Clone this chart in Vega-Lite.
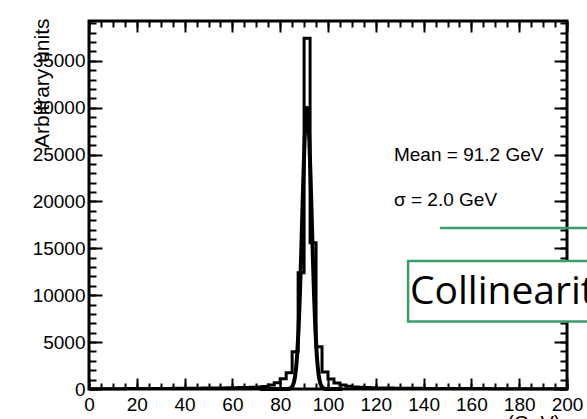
{
  "$schema": "https://vega.github.io/schema/vega-lite/v6.json",
  "width": 478,
  "height": 368,
  "autosize": {"type": "none"},
  "padding": {"left": 89, "top": 21, "right": 20, "bottom": 30},
  "background": "white",
  "config": {
    "view": {"stroke": "black", "strokeWidth": 3},
    "axis": {"domain": false, "grid": false, "tickColor": "black", "tickWidth": 2, "labelColor": "black", "labelFont": "Liberation Sans", "labelFontSize": 19, "titleColor": "black", "titleFont": "Liberation Sans", "titleFontWeight": "normal", "labelFlush": false, "labelOverlap": false}
  },
  "datasets": {
    "hist": [
      {"mass": 0, "count": 30}, {"mass": 2.5, "count": 30}, {"mass": 5, "count": 35}, {"mass": 7.5, "count": 35},
      {"mass": 10, "count": 40}, {"mass": 12.5, "count": 40}, {"mass": 15, "count": 45}, {"mass": 17.5, "count": 45},
      {"mass": 20, "count": 50}, {"mass": 22.5, "count": 50}, {"mass": 25, "count": 55}, {"mass": 27.5, "count": 60},
      {"mass": 30, "count": 60}, {"mass": 32.5, "count": 65}, {"mass": 35, "count": 70}, {"mass": 37.5, "count": 75},
      {"mass": 40, "count": 80}, {"mass": 42.5, "count": 85}, {"mass": 45, "count": 90}, {"mass": 47.5, "count": 95},
      {"mass": 50, "count": 100}, {"mass": 52.5, "count": 110}, {"mass": 55, "count": 120}, {"mass": 57.5, "count": 130},
      {"mass": 60, "count": 140}, {"mass": 62.5, "count": 155}, {"mass": 65, "count": 170}, {"mass": 67.5, "count": 190},
      {"mass": 70, "count": 210}, {"mass": 72.5, "count": 270}, {"mass": 75, "count": 430}, {"mass": 77.5, "count": 670},
      {"mass": 80, "count": 1100}, {"mass": 82.5, "count": 1740}, {"mass": 85, "count": 3980}, {"mass": 87.5, "count": 12400},
      {"mass": 90, "count": 37400}, {"mass": 92.5, "count": 15600}, {"mass": 95, "count": 4510}, {"mass": 97.5, "count": 1810},
      {"mass": 100, "count": 1070}, {"mass": 102.5, "count": 640}, {"mass": 105, "count": 430}, {"mass": 107.5, "count": 290},
      {"mass": 110, "count": 220}, {"mass": 112.5, "count": 180}, {"mass": 115, "count": 150}, {"mass": 117.5, "count": 130},
      {"mass": 120, "count": 115}, {"mass": 122.5, "count": 105}, {"mass": 125, "count": 95}, {"mass": 127.5, "count": 90},
      {"mass": 130, "count": 85}, {"mass": 132.5, "count": 80}, {"mass": 135, "count": 75}, {"mass": 137.5, "count": 70},
      {"mass": 140, "count": 65}, {"mass": 142.5, "count": 62}, {"mass": 145, "count": 60}, {"mass": 147.5, "count": 57},
      {"mass": 150, "count": 55}, {"mass": 152.5, "count": 52}, {"mass": 155, "count": 50}, {"mass": 157.5, "count": 48},
      {"mass": 160, "count": 46}, {"mass": 162.5, "count": 44}, {"mass": 165, "count": 42}, {"mass": 167.5, "count": 40},
      {"mass": 170, "count": 38}, {"mass": 172.5, "count": 36}, {"mass": 175, "count": 35}, {"mass": 177.5, "count": 34},
      {"mass": 180, "count": 33}, {"mass": 182.5, "count": 32}, {"mass": 185, "count": 31}, {"mass": 187.5, "count": 30},
      {"mass": 190, "count": 29}, {"mass": 192.5, "count": 28}, {"mass": 195, "count": 27}, {"mass": 197.5, "count": 26},
      {"mass": 200, "count": 26}
    ],
    "fit": [
      {"mass": 71.5, "count": 0}, {"mass": 78, "count": 0}, {"mass": 82.2, "count": 1}, {"mass": 83.2, "count": 10},
      {"mass": 84.2, "count": 66}, {"mass": 85.2, "count": 330}, {"mass": 85.7, "count": 680}, {"mass": 86.2, "count": 1320},
      {"mass": 86.7, "count": 2390}, {"mass": 87.2, "count": 4060}, {"mass": 87.7, "count": 6490}, {"mass": 88.2, "count": 9740},
      {"mass": 88.7, "count": 13730}, {"mass": 89.2, "count": 18200}, {"mass": 89.7, "count": 22640}, {"mass": 90.2, "count": 26470},
      {"mass": 90.7, "count": 29080}, {"mass": 91.2, "count": 30000}, {"mass": 91.7, "count": 29080}, {"mass": 92.2, "count": 26470},
      {"mass": 92.7, "count": 22640}, {"mass": 93.2, "count": 18200}, {"mass": 93.7, "count": 13730}, {"mass": 94.2, "count": 9740},
      {"mass": 94.7, "count": 6490}, {"mass": 95.2, "count": 4060}, {"mass": 95.7, "count": 2390}, {"mass": 96.2, "count": 1320},
      {"mass": 96.7, "count": 680}, {"mass": 97.2, "count": 330}, {"mass": 98.2, "count": 66}, {"mass": 99.2, "count": 10},
      {"mass": 100.2, "count": 1}, {"mass": 106, "count": 0}
    ],
    "notes": [
      {"label": "Mean = 91.2 GeV", "x": 127.6, "y": 24970},
      {"label": "σ = 2.0 GeV", "x": 127.6, "y": 20170}
    ],
    "greenline": [{"x": 146.9, "x2": 215, "y": 17180}],
    "box": [{"x": 133.5, "x2": 215, "y": 13660, "y2": 7200}],
    "boxtext": [{"label": "Collinearity", "x": 134.3, "y": 9070}]
  },
  "resolve": {"axis": {"x": "independent", "y": "independent"}},
  "layer": [
    {
      "data": {"name": "hist"},
      "mark": {"type": "line", "interpolate": "step-after", "color": "black", "strokeWidth": 3},
      "encoding": {
        "x": {"field": "mass", "type": "quantitative", "scale": {"domain": [0, 200], "nice": false, "zero": false},
          "axis": {"orient": "bottom", "values": [0, 20, 40, 60, 80, 100, 120, 140, 160, 180, 200], "ticks": false, "labelPadding": 6, "format": "d",
            "title": "(GeV)", "titleFontSize": 20, "titleX": 471, "titleY": 40, "titleAlign": "right", "titleBaseline": "alphabetic"}},
        "y": {"field": "count", "type": "quantitative", "scale": {"domain": [0, 39250], "nice": false, "zero": false},
          "axis": {"orient": "left", "values": [0, 5000, 10000, 15000, 20000, 25000, 30000, 35000], "ticks": false, "labelPadding": 4, "format": "d",
            "title": "Arbitrary units", "titleFontSize": 21, "titleAngle": -90, "titleX": -41, "titleY": -3, "titleAlign": "right", "titleBaseline": "alphabetic"}}
      }
    },
    {
      "data": {"name": "fit"},
      "mark": {"type": "line", "interpolate": "monotone", "color": "black", "strokeWidth": 4},
      "encoding": {
        "x": {"field": "mass", "type": "quantitative", "scale": {"domain": [0, 200], "nice": false, "zero": false},
          "axis": {"orient": "bottom", "values": [0, 20, 40, 60, 80, 100, 120, 140, 160, 180, 200], "labels": false, "tickSize": -11, "title": null}},
        "y": {"field": "count", "type": "quantitative", "scale": {"domain": [0, 39250], "nice": false, "zero": false},
          "axis": {"orient": "left", "values": [0, 5000, 10000, 15000, 20000, 25000, 30000, 35000], "labels": false, "tickSize": -13, "title": null}}
      }
    },
    {
      "data": {"name": "notes"},
      "mark": {"type": "text", "align": "left", "baseline": "middle", "font": "Liberation Sans", "fontSize": 19, "color": "black"},
      "encoding": {
        "x": {"field": "x", "type": "quantitative", "scale": {"domain": [0, 200], "nice": false, "zero": false},
          "axis": {"orient": "bottom", "values": [0, 5, 10, 15, 20, 25, 30, 35, 40, 45, 50, 55, 60, 65, 70, 75, 80, 85, 90, 95, 100, 105, 110, 115, 120, 125, 130, 135, 140, 145, 150, 155, 160, 165, 170, 175, 180, 185, 190, 195, 200], "labels": false, "tickSize": -6, "title": null}},
        "y": {"field": "y", "type": "quantitative", "scale": {"domain": [0, 39250], "nice": false, "zero": false},
          "axis": {"orient": "left", "values": [0, 1000, 2000, 3000, 4000, 5000, 6000, 7000, 8000, 9000, 10000, 11000, 12000, 13000, 14000, 15000, 16000, 17000, 18000, 19000, 20000, 21000, 22000, 23000, 24000, 25000, 26000, 27000, 28000, 29000, 30000, 31000, 32000, 33000, 34000, 35000, 36000, 37000, 38000, 39000], "labels": false, "tickSize": -7, "title": null}},
        "text": {"field": "label"}
      }
    },
    {
      "data": {"name": "greenline"},
      "mark": {"type": "rule", "color": "#3a9d6b", "strokeWidth": 2.5},
      "encoding": {
        "x": {"field": "x", "type": "quantitative", "scale": {"domain": [0, 200], "nice": false, "zero": false},
          "axis": {"orient": "top", "values": [0, 20, 40, 60, 80, 100, 120, 140, 160, 180, 200], "labels": false, "tickSize": -11, "title": null}},
        "x2": {"field": "x2"},
        "y": {"field": "y", "type": "quantitative", "scale": {"domain": [0, 39250], "nice": false, "zero": false},
          "axis": {"orient": "right", "values": [0, 5000, 10000, 15000, 20000, 25000, 30000, 35000], "labels": false, "tickSize": -13, "title": null}}
      }
    },
    {
      "data": {"name": "box"},
      "mark": {"type": "rect", "fill": "white", "stroke": "#3a9d6b", "strokeWidth": 2.5},
      "encoding": {
        "x": {"field": "x", "type": "quantitative", "scale": {"domain": [0, 200], "nice": false, "zero": false},
          "axis": {"orient": "top", "values": [0, 5, 10, 15, 20, 25, 30, 35, 40, 45, 50, 55, 60, 65, 70, 75, 80, 85, 90, 95, 100, 105, 110, 115, 120, 125, 130, 135, 140, 145, 150, 155, 160, 165, 170, 175, 180, 185, 190, 195, 200], "labels": false, "tickSize": -6, "title": null}},
        "x2": {"field": "x2"},
        "y": {"field": "y", "type": "quantitative", "scale": {"domain": [0, 39250], "nice": false, "zero": false},
          "axis": {"orient": "right", "values": [0, 1000, 2000, 3000, 4000, 5000, 6000, 7000, 8000, 9000, 10000, 11000, 12000, 13000, 14000, 15000, 16000, 17000, 18000, 19000, 20000, 21000, 22000, 23000, 24000, 25000, 26000, 27000, 28000, 29000, 30000, 31000, 32000, 33000, 34000, 35000, 36000, 37000, 38000, 39000], "labels": false, "tickSize": -7, "title": null}},
        "y2": {"field": "y2"}
      }
    },
    {
      "data": {"name": "boxtext"},
      "mark": {"type": "text", "align": "left", "baseline": "alphabetic", "font": "Open Sans", "fontSize": 39, "color": "black"},
      "encoding": {
        "x": {"field": "x", "type": "quantitative", "scale": {"domain": [0, 200], "nice": false, "zero": false}, "axis": null},
        "y": {"field": "y", "type": "quantitative", "scale": {"domain": [0, 39250], "nice": false, "zero": false}, "axis": null},
        "text": {"field": "label"}
      }
    }
  ]
}
